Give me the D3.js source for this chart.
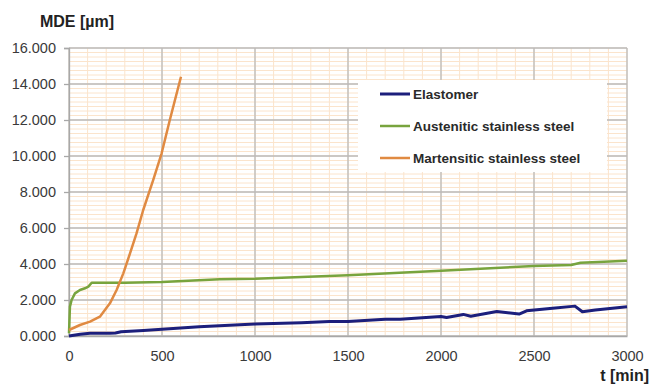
<!DOCTYPE html>
<html>
<head>
<meta charset="utf-8">
<script src="https://cdn.jsdelivr.net/npm/d3@7"></script>
<style>
  body { margin: 0; background: #fff; }
  svg { display: block; font-family: "Liberation Sans", Arial, sans-serif; }
</style>
</head>
<body>
<div id="chart"></div>
<script>
// Values (t in min, MDE in µm).
const seriesNames = ["Elastomer", "Austenitic stainless steel", "Martensitic stainless steel"];
const seriesColors = ["#1c1f7c", "#78a43e", "#e08a42"];

const elastomerT = [0, 60, 113, 220, 250, 280, 400, 500, 700, 1000, 1250, 1400, 1500, 1700, 1780, 2000, 2030, 2120, 2160, 2300, 2420, 2460, 2600, 2720, 2760, 2830, 3000];
const elastomerV = [0, 0.10, 0.15, 0.15, 0.17, 0.24, 0.30, 0.37, 0.52, 0.67, 0.74, 0.80, 0.80, 0.925, 0.925, 1.08, 1.03, 1.20, 1.10, 1.36, 1.22, 1.40, 1.54, 1.66, 1.35, 1.44, 1.62];

const austeniticT = [0, 5, 14, 32, 59, 86, 104, 122, 300, 500, 811, 1000, 1500, 1778, 2000, 2500, 2700, 2750, 3000];
const austeniticV = [0.15, 1.63, 2.00, 2.37, 2.555, 2.65, 2.74, 2.96, 2.96, 3.00, 3.15, 3.18, 3.38, 3.52, 3.63, 3.89, 3.94, 4.07, 4.18];

const martensiticT = [0, 59, 113, 166, 220, 256, 292, 328, 363, 399, 453, 498, 542, 602];
const martensiticV = [0.333, 0.611, 0.796, 1.074, 1.815, 2.555, 3.48, 4.59, 5.70, 7.00, 8.67, 10.15, 12.00, 14.40];

const xTicks = [0, 500, 1000, 1500, 2000, 2500, 3000];
const yTicks = [0, 2, 4, 6, 8, 10, 12, 14, 16];

const WIDTH = 651, HEIGHT = 387;
const PLOT = { left: 69, right: 627, top: 48, bottom: 336 };

const series = [
    { name: seriesNames[0], color: seriesColors[0], width: 3, t: elastomerT, v: elastomerV },
    { name: seriesNames[1], color: seriesColors[1], width: 2.5, t: austeniticT, v: austeniticV },
    { name: seriesNames[2], color: seriesColors[2], width: 2.5, t: martensiticT, v: martensiticV }
];

const svg = d3.select("#chart")
    .append("svg")
    .attr("width", WIDTH)
    .attr("height", HEIGHT);

const xScale = d3.scaleLinear().domain([0, 3000]).range([PLOT.left, PLOT.right]);
const yScale = d3.scaleLinear().domain([0, 16]).range([PLOT.bottom, PLOT.top]);

// Minor grid (light orange) under the major grid (grey).
const grid = svg.append("g");
grid.selectAll(".vminor")
    .data(d3.range(0, 3001, 100))
    .join("line")
    .attr("x1", d => xScale(d)).attr("x2", d => xScale(d))
    .attr("y1", PLOT.top).attr("y2", PLOT.bottom)
    .attr("stroke", "#fbe4cc").attr("stroke-width", 1);
grid.selectAll(".hminor")
    .data(d3.range(0, 16.001, 0.25))
    .join("line")
    .attr("x1", PLOT.left).attr("x2", PLOT.right)
    .attr("y1", d => yScale(d)).attr("y2", d => yScale(d))
    .attr("stroke", "#fbe4cc").attr("stroke-width", 1);

grid.append("g")
    .selectAll("line")
    .data(xTicks)
    .join("line")
    .attr("x1", d => xScale(d)).attr("x2", d => xScale(d))
    .attr("y1", PLOT.top).attr("y2", PLOT.bottom)
    .attr("stroke", "#bababa").attr("stroke-width", 1.3);
grid.append("g")
    .selectAll("line")
    .data(yTicks)
    .join("line")
    .attr("x1", PLOT.left).attr("x2", PLOT.right)
    .attr("y1", d => yScale(d)).attr("y2", d => yScale(d))
    .attr("stroke", "#bababa").attr("stroke-width", 1.3);

// Axes
const yAxis = svg.append("g")
    .attr("transform", `translate(${PLOT.left},0)`)
    .call(d3.axisLeft(yScale).tickValues(yTicks).tickFormat(d3.format(".3f")).tickSize(5).tickPadding(8));
const xAxis = svg.append("g")
    .attr("transform", `translate(0,${PLOT.bottom})`)
    .call(d3.axisBottom(xScale).tickValues(xTicks).tickFormat(d3.format("d")).tickSize(0).tickPadding(15));

[yAxis, xAxis].forEach(ax => {
    ax.select(".domain").attr("stroke", "#a8a8a8").attr("stroke-width", 1.3);
    ax.selectAll(".tick line").attr("stroke", "#a8a8a8").attr("stroke-width", 1.3);
    ax.selectAll("text")
        .attr("fill", "#3a3a3a")
        .style("font-size", "14.5px")
        .style("font-family", "'Liberation Sans', Arial, sans-serif");
});

// Series lines
const lineGenerator = d3.line()
    .x(d => xScale(d[0]))
    .y(d => yScale(d[1]));

svg.append("g")
    .selectAll("path")
    .data(series)
    .join("path")
    .attr("d", s => lineGenerator(d3.zip(s.t, s.v)))
    .attr("fill", "none")
    .attr("stroke", s => s.color)
    .attr("stroke-width", s => s.width)
    .attr("stroke-linejoin", "round");

// Legend box covers the grid
const legend = svg.append("g");
legend.append("rect")
    .attr("x", 358).attr("y", 80)
    .attr("width", 249).attr("height", 92)
    .attr("fill", "#fff");

const legendRows = legend.selectAll(".row")
    .data(series)
    .join("g")
    .attr("transform", (d, i) => `translate(380,${94 + i * 32})`);
legendRows.append("line")
    .attr("x1", 0).attr("x2", 30)
    .attr("stroke", d => d.color)
    .attr("stroke-width", d => d.width);
legendRows.append("text")
    .attr("x", 33).attr("y", 5)
    .text(d => d.name)
    .attr("fill", "#2a2a2a")
    .style("font-weight", "bold")
    .style("font-size", "13.5px");

// Axis titles
svg.append("text")
    .text("MDE [µm]")
    .attr("x", 77).attr("y", 27)
    .attr("text-anchor", "middle")
    .attr("fill", "#222")
    .style("font-weight", "bold")
    .style("font-size", "16px");

svg.append("text")
    .text("t [min]")
    .attr("x", 649).attr("y", 381)
    .attr("text-anchor", "end")
    .attr("fill", "#222")
    .style("font-weight", "bold")
    .style("font-size", "16px");
</script>
</body>
</html>
